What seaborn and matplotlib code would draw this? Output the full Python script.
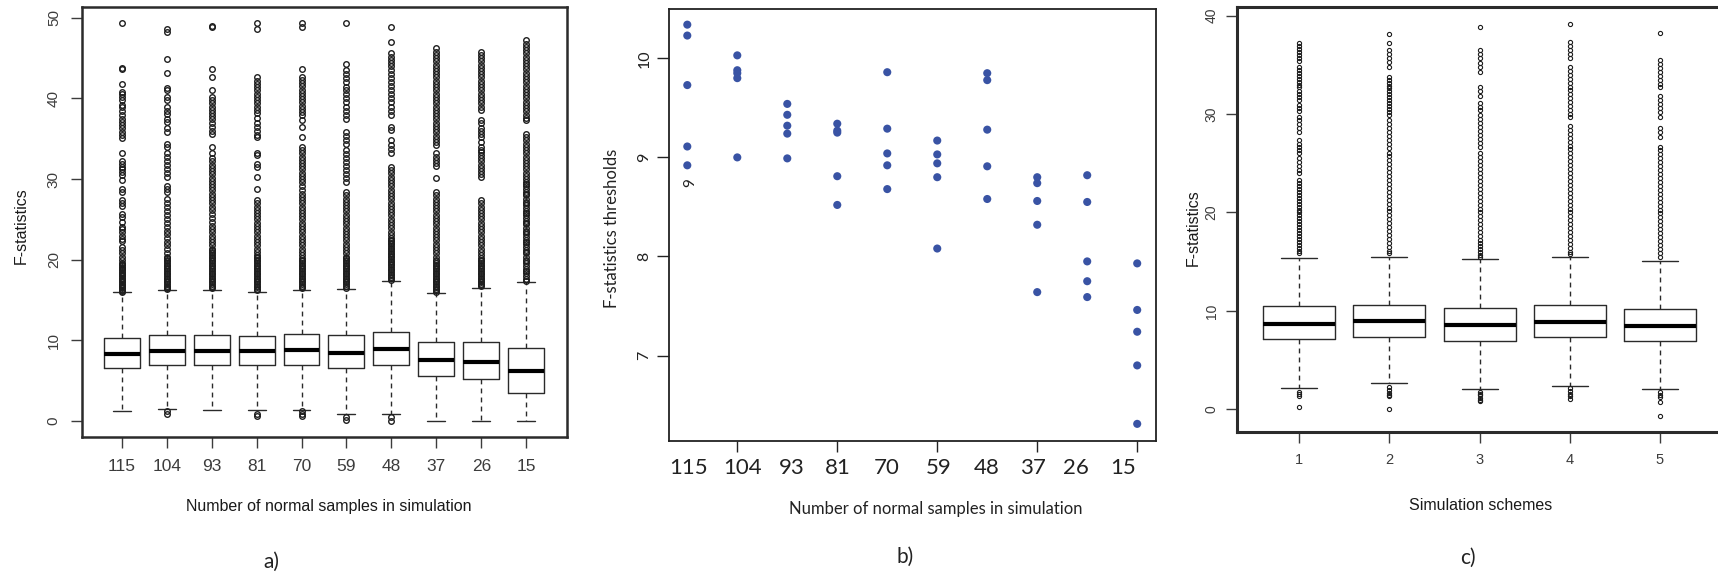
import matplotlib
matplotlib.use("Agg")
import matplotlib.pyplot as plt
import matplotlib.transforms as mtransforms
import numpy as np
import pandas as pd
import seaborn as sns

# ---------------- data ----------------
# Panel a: box statistics per simulation (number of normal samples)
a_labels = ["115", "104", "93", "81", "70", "59", "48", "37", "26", "15"]
a_q1 = [6.53, 6.90, 6.90, 6.90, 7.02, 6.65, 6.90, 5.66, 5.28, 3.51]
a_med = [8.30, 8.67, 8.67, 8.67, 8.80, 8.43, 8.92, 7.64, 7.39, 6.28]
a_q3 = [10.37, 10.66, 10.66, 10.53, 10.78, 10.66, 11.00, 9.79, 9.79, 9.01]
a_wlo = [1.24, 1.53, 1.36, 1.36, 1.40, 0.87, 0.87, 0.0, 0.0, 0.0]
a_whi = [15.95, 16.2, 16.3, 16.0, 16.3, 16.4, 17.35, 15.9, 16.5, 17.2]
a_out_115 = [49.4, 43.8, 43.7, 41.8, 40.8, 40.5, 40.2, 39.8, 39.2, 38.9, 38.5, 38.0, 37.5, 37.1,
             36.7, 36.3, 35.9, 35.5, 35.1, 33.2, 32.3, 31.9, 31.5, 31.2, 30.9, 30.5, 29.9, 28.8,
             28.4, 27.4, 27.0, 26.7, 25.7, 25.3, 24.7, 24.1, 23.8, 23.4, 23.0, 22.6, 22.3, 21.6,
             21.2, 20.8, 20.4, 20.0, 19.6, 19.3, 19.0, 18.7, 18.4, 18.1, 17.8, 17.5, 17.2, 16.9,
             16.6, 16.3, 16.05, 19.45, 19.15, 18.85, 18.55, 18.25, 17.95, 17.65, 17.35, 17.05,
             16.75, 16.45, 16.15]
a_out_104 = [48.6, 48.2, 44.9, 43.1, 41.3, 41.0, 40.2, 39.8, 38.9, 38.5, 38.1, 37.5, 37.1, 36.3,
             35.9, 34.4, 34.0, 33.2, 32.7, 32.2, 31.8, 31.3, 30.8, 30.3, 29.2, 28.8, 28.4, 27.6,
             27.1, 26.6, 26.1, 25.6, 25.1, 24.6, 24.1, 23.6, 23.2, 22.7, 22.2, 21.8, 21.3, 20.9,
             20.4, 20.0, 19.6, 19.2, 18.8, 18.4, 18.0, 17.6, 17.2, 16.8, 16.5, 20.2, 19.8, 19.4,
             19.0, 18.6, 18.2, 17.8, 17.4, 17.0, 16.65, 16.35, 1.2, 0.9]
a_out_93 = [49.0, 48.9, 43.7, 42.6, 41.0, 40.2, 39.8, 39.4, 39.0, 38.6, 38.2, 37.8, 37.4, 37.0,
            36.5, 36.0, 35.6, 34.0, 33.2, 32.6, 32.2, 31.8, 31.4, 31.0, 30.6, 30.2, 29.8, 29.4,
            29.0, 28.6, 28.2, 27.8, 27.4, 27.0, 26.6, 26.2, 25.7, 25.2, 24.7, 24.2, 23.8, 23.4,
            23.0, 22.6, 22.2, 21.8, 21.4, 21.0, 20.6, 20.2, 19.8, 19.4, 19.0, 18.6, 18.2, 17.8,
            17.4, 17.0, 16.6, 21.2, 20.8, 20.4, 20.0, 19.6, 19.2, 18.8, 18.4, 18.0, 17.6, 17.2,
            16.8, 16.45]
a_out_81 = [49.3, 48.6, 42.6, 42.2, 41.8, 41.4, 41.0, 40.6, 40.2, 39.8, 39.4, 39.0, 38.6, 38.2,
            37.6, 37.0, 36.5, 36.0, 35.5, 35.2, 33.3, 33.0, 31.9, 31.5, 30.3, 28.8, 27.4, 27.0,
            26.6, 26.2, 25.8, 25.4, 25.0, 24.6, 24.2, 23.8, 23.4, 23.0, 22.6, 22.2, 21.8, 21.4,
            21.0, 20.6, 20.2, 19.8, 19.4, 19.0, 18.6, 18.2, 17.8, 17.4, 17.0, 16.6, 16.2,
            20.4, 20.0, 19.6, 19.2, 18.8, 18.4, 18.0, 17.6, 17.2, 16.8, 16.4, 0.9, 0.7]
a_out_70 = [49.3, 48.9, 43.7, 42.7, 42.3, 41.9, 41.5, 41.1, 40.7, 40.3, 39.9, 39.5, 39.1, 38.7,
            38.3, 37.9, 37.3, 36.5, 35.2, 34.0, 33.6, 33.2, 32.8, 32.4, 32.0, 31.6, 31.2, 30.8,
            30.4, 30.0, 29.6, 29.2, 28.6, 28.2, 27.8, 27.4, 27.0, 26.6, 26.2, 25.8, 25.4, 25.0,
            24.6, 24.2, 23.8, 23.4, 23.0, 22.6, 22.2, 21.8, 21.4, 21.0, 20.6, 20.2, 19.8, 19.4,
            19.0, 18.6, 18.2, 17.8, 17.4, 17.0, 16.6, 20.0, 19.6, 19.2, 18.8, 18.4, 18.0, 17.6,
            17.2, 16.8, 16.45, 1.3, 0.9, 0.6]
a_out_59 = [49.4, 44.3, 43.5, 43.0, 42.5, 42.0, 41.4, 41.0, 40.5, 40.0, 39.5, 39.0, 38.5, 38.0,
            37.4, 35.9, 35.4, 34.9, 34.4, 33.6, 33.1, 32.6, 32.1, 31.6, 31.1, 30.6, 30.1, 29.6,
            28.4, 28.0, 27.6, 27.2, 26.8, 26.4, 26.0, 25.6, 25.2, 24.8, 24.4, 24.0, 23.6, 23.2,
            22.8, 22.4, 22.0, 21.6, 21.2, 20.8, 20.4, 20.0, 19.6, 19.2, 18.8, 18.4, 18.0, 17.6,
            17.2, 16.8, 20.2, 19.8, 19.4, 19.0, 18.6, 18.2, 17.8, 17.4, 17.0, 16.55, 0.55, 0.12]
a_out_48 = [48.8, 47.0, 45.6, 45.2, 44.8, 44.4, 44.0, 43.5, 43.0, 42.5, 42.0, 41.5, 41.0, 40.5,
            40.0, 39.5, 39.0, 38.5, 38.0, 36.5, 36.1, 34.8, 34.2, 33.7, 33.2, 31.5, 31.1, 30.7,
            30.3, 29.9, 29.5, 29.1, 28.7, 28.3, 27.9, 27.5, 27.1, 26.7, 26.3, 25.9, 25.5, 25.1,
            24.7, 24.3, 23.9, 23.5, 23.1, 22.7, 22.3, 21.9, 21.5, 21.1, 20.7, 20.3, 19.9, 19.5,
            19.1, 18.7, 18.3, 17.9, 17.5, 22.5, 22.1, 21.7, 21.3, 20.9, 20.5, 20.1, 19.7, 19.3,
            18.9, 18.5, 18.1, 17.7, 0.54, 0.04]
a_out_37 = [46.2, 45.8, 45.4, 45.0, 44.6, 44.2, 43.8, 43.4, 43.0, 42.6, 42.2, 41.8, 41.4, 41.0,
            40.6, 40.2, 39.8, 39.4, 39.0, 38.6, 38.2, 37.8, 37.4, 37.0, 36.6, 36.2, 35.8, 35.4,
            35.0, 34.6, 34.2, 33.2, 32.8, 32.4, 32.0, 31.6, 30.1, 28.4, 28.0, 27.6, 27.2, 26.8,
            26.4, 26.0, 25.6, 25.2, 24.8, 24.4, 24.0, 23.6, 23.2, 22.8, 22.4, 22.0, 21.6, 21.2,
            20.8, 20.4, 20.0, 19.6, 19.2, 18.8, 18.4, 18.0, 17.6, 17.2, 16.8, 16.4, 16.0,
            19.8, 19.4, 19.0, 18.6, 18.2, 17.8, 17.4, 17.0, 16.6, 16.2]
a_out_26 = [45.8, 45.4, 45.0, 44.6, 44.2, 43.8, 43.4, 43.0, 42.6, 42.2, 41.8, 41.4, 41.0, 40.6,
            40.2, 39.8, 39.4, 39.0, 38.6, 37.3, 36.9, 36.4, 36.0, 35.6, 35.2, 34.6, 34.0, 33.6,
            33.4, 33.0, 32.6, 32.2, 31.8, 31.4, 31.0, 30.6, 30.3, 27.4, 27.0, 26.6, 26.2, 25.8,
            25.4, 25.0, 24.6, 24.2, 23.8, 23.4, 23.0, 22.6, 22.2, 21.8, 21.4, 21.0, 20.6, 20.2,
            19.8, 19.4, 19.0, 18.6, 18.2, 17.8, 17.4, 17.0, 16.7, 20.0, 19.6, 19.2, 18.8, 18.4,
            18.0, 17.6, 17.2, 16.85]
a_out_15 = [47.2, 46.8, 46.4, 46.0, 45.6, 45.2, 44.8, 44.4, 44.0, 43.6, 43.2, 42.8, 42.4, 42.0,
            41.6, 41.2, 40.8, 40.4, 40.0, 39.6, 39.2, 38.8, 38.4, 38.0, 37.6, 37.3, 35.6, 35.2,
            34.8, 34.4, 34.0, 33.6, 33.2, 32.8, 32.4, 32.0, 31.6, 31.2, 30.8, 30.4, 30.0, 29.6,
            29.2, 28.8, 28.4, 28.0, 27.6, 27.2, 26.8, 26.4, 26.0, 25.6, 25.2, 24.8, 24.4, 24.0,
            23.6, 23.2, 22.8, 22.4, 22.0, 21.6, 21.2, 20.8, 20.4, 20.0, 19.6, 19.2, 18.8, 18.4,
            18.0, 17.6, 29.4, 28.2, 27.0, 25.8, 24.6, 23.4, 22.2, 21.0, 19.8, 18.6, 17.4]
a_outliers = [a_out_115, a_out_104, a_out_93, a_out_81, a_out_70,
              a_out_59, a_out_48, a_out_37, a_out_26, a_out_15]

# Panel b: F-statistics thresholds per simulation
b_labels = ["115", "104", "93", "81", "70", "59", "48", "37", "26", "15"]
b_115 = [10.34, 10.23, 9.73, 9.11, 8.92]
b_104 = [10.03, 9.88, 9.85, 9.80, 9.00]
b_93 = [9.54, 9.43, 9.32, 9.24, 8.99]
b_81 = [9.34, 9.27, 9.25, 8.81, 8.52]
b_70 = [9.86, 9.29, 9.04, 8.92, 8.68]
b_59 = [9.17, 9.03, 8.94, 8.80, 8.08]
b_48 = [9.85, 9.78, 9.28, 8.91, 8.58]
b_37 = [8.80, 8.74, 8.56, 8.32, 7.64]
b_26 = [8.82, 8.55, 7.95, 7.75, 7.59]
b_15 = [7.93, 7.46, 7.24, 6.90, 6.31]
b_values = [b_115, b_104, b_93, b_81, b_70, b_59, b_48, b_37, b_26, b_15]
b_note = "9"

# Panel c: box statistics per simulation scheme
c_labels = ["1", "2", "3", "4", "5"]
c_q1 = [7.11, 7.38, 6.98, 7.31, 6.91]
c_med = [8.70, 8.97, 8.57, 8.87, 8.47]
c_q3 = [10.47, 10.63, 10.26, 10.63, 10.16]
c_wlo = [2.20, 2.67, 2.03, 2.34, 2.03]
c_whi = [15.41, 15.50, 15.25, 15.50, 15.08]
c_out_1 = [37.2, 36.9, 36.6, 36.3, 36.0, 35.7, 35.4, 34.8, 34.5, 34.2, 33.9, 33.6, 33.3, 33.0,
           32.7, 32.3, 32.0, 31.7, 31.4, 30.9, 30.6, 30.3, 29.7, 29.4, 29.0, 28.6, 28.2, 27.4,
           27.0, 26.7, 26.3, 26.0, 25.5, 25.1, 24.7, 24.3, 24.0, 23.3, 23.0, 22.7, 22.4, 22.1,
           21.8, 21.5, 21.2, 20.9, 20.6, 20.3, 20.0, 19.7, 19.4, 19.1, 18.8, 18.5, 18.2, 17.9,
           17.6, 17.3, 17.0, 16.7, 16.4, 16.1, 15.9, 1.8, 1.6, 1.3, 0.27]
c_out_2 = [38.1, 37.2, 36.5, 36.1, 35.7, 35.3, 34.8, 33.8, 33.5, 33.2, 32.9, 32.6, 32.3, 32.0,
           31.7, 31.4, 31.1, 30.8, 30.5, 30.2, 29.9, 29.4, 29.0, 28.6, 28.2, 27.8, 27.4, 27.0,
           26.6, 26.0, 25.7, 25.3, 24.9, 24.5, 24.1, 23.7, 23.3, 22.9, 22.5, 22.1, 21.7, 21.3,
           20.9, 20.5, 20.1, 19.7, 19.3, 18.9, 18.5, 18.1, 17.7, 17.3, 16.9, 16.5, 16.1, 15.9,
           2.3, 2.0, 1.7, 1.5, 1.3, 0.0]
c_out_3 = [38.8, 36.5, 36.1, 35.7, 35.2, 34.8, 34.3, 32.8, 32.3, 31.8, 31.1, 30.7, 30.4, 29.9,
           29.5, 29.1, 28.7, 28.3, 27.9, 27.5, 27.1, 26.7, 26.0, 25.6, 25.2, 24.8, 24.4, 24.0,
           23.6, 23.2, 22.8, 22.4, 22.0, 21.6, 21.2, 20.8, 20.4, 20.0, 19.6, 19.2, 18.8, 18.4,
           18.0, 17.6, 17.2, 16.9, 16.6, 16.3, 16.0, 15.7, 15.5, 1.8, 1.6, 1.4, 1.1, 0.9, 0.8]
c_out_4 = [39.2, 37.3, 36.9, 36.5, 36.1, 35.7, 34.8, 34.4, 34.0, 33.6, 33.2, 32.8, 32.4, 32.0,
           31.6, 31.2, 30.8, 30.4, 30.0, 29.7, 28.8, 28.4, 28.0, 27.6, 27.2, 26.8, 26.4, 26.0,
           25.6, 25.2, 24.8, 24.4, 24.0, 23.6, 23.2, 22.8, 22.4, 22.0, 21.6, 21.2, 20.8, 20.4,
           20.0, 19.6, 19.2, 18.8, 18.4, 18.0, 17.6, 17.2, 16.8, 16.4, 16.0, 15.8,
           2.2, 1.9, 1.6, 1.3, 1.0]
c_out_5 = [38.2, 35.5, 35.1, 34.7, 34.3, 33.9, 33.5, 33.1, 32.8, 31.8, 31.4, 31.0, 30.6, 30.2,
           29.7, 28.6, 28.2, 27.7, 26.7, 26.3, 25.9, 25.5, 25.1, 24.7, 24.3, 23.9, 23.5, 23.1,
           22.7, 22.3, 21.9, 21.5, 21.1, 20.7, 20.3, 19.9, 19.5, 19.1, 18.7, 18.3, 17.9, 17.5,
           17.1, 16.7, 16.3, 15.9, 15.5, 1.8, 1.5, 1.2, 0.7, -0.67]
c_outliers = [c_out_1, c_out_2, c_out_3, c_out_4, c_out_5]

# ---------------- style ----------------
sns.set_theme(style="white")
plt.rcParams["font.family"] = ["Liberation Sans", "DejaVu Sans"]
plt.rcParams["axes.unicode_minus"] = False

W, H = 1718, 577
fig = plt.figure(figsize=(W / 100, H / 100), dpi=100)


def px_axes(left, top, right, bottom):
    return fig.add_axes([left / W, 1 - bottom / H, (right - left) / W, (bottom - top) / H])


def ftext(x, y, s, **kw):
    return fig.text(x / W, 1 - y / H, s, ha="center", va="center", **kw)


def box_stats(labels, q1, med, q3, wlo, whi, outs):
    stats = []
    for lab, a, m, b, lo, hi, fl in zip(labels, q1, med, q3, wlo, whi, outs):
        stats.append(dict(label=lab, q1=a, med=m, q3=b, whislo=lo, whishi=hi,
                          fliers=np.array(fl)))
    return stats


def draw_box(ax, stats, msize, mew, frame_lw):
    n = len(stats)
    ax.bxp(stats, positions=np.arange(1, n + 1), widths=0.8, showfliers=True,
           boxprops=dict(color="#2a2a2a", linewidth=1.0),
           medianprops=dict(color="black", linewidth=3.0, solid_capstyle="butt"),
           whiskerprops=dict(color="#2a2a2a", linewidth=1.0, linestyle=(0, (3.5, 3))),
           capprops=dict(color="#2a2a2a", linewidth=1.0),
           capwidths=0.4,
           flierprops=dict(marker="o", markerfacecolor="none", markeredgecolor="#1e1e1e",
                           markersize=msize, markeredgewidth=mew, linestyle="none"))
    for s in ax.spines.values():
        s.set_visible(True)
        s.set_color("#2b2b2b")
        s.set_linewidth(frame_lw)


grey = "#3c3c3c"
myriad = ["Lato", "DejaVu Sans"]

# ---------------- panel a ----------------
axa = px_axes(81.7, 7.3, 566.7, 437.3)
draw_box(axa, box_stats(a_labels, a_q1, a_med, a_q3, a_wlo, a_whi, a_outliers), 4.0, 1.0, 1.8)
axa.set_xlim(0.11, 10.9)
axa.set_ylim(-2.0, 51.3)
axa.set_yticks([0, 10, 20, 30, 40, 50])
axa.set_yticklabels(["0", "10", "20", "30", "40", "50"], rotation=90, va="center")
axa.set_xticks(np.arange(1, 11))
axa.set_xticklabels(a_labels)
axa.tick_params(axis="x", length=8, width=1, color=grey, labelsize=12.5, labelcolor=grey, pad=7.5,
                bottom=True)
axa.tick_params(axis="y", length=8, width=1, color=grey, labelsize=11, labelcolor=grey, pad=7,
                left=True)
ftext(328.3, 506.7, "Number of normal samples in simulation", fontsize=11.5, color="#1a1a1a")
ftext(21, 226, "F-statistics", fontsize=11.5, color="#1a1a1a", rotation=90)
ftext(271.7, 561.7, "a)", fontsize=15, family=myriad, color="#222222")

# ---------------- panel b ----------------
axb = px_axes(669.3, 9.3, 1155.7, 440.7)
rows = []
for i, (lab, vals) in enumerate(zip(b_labels, b_values)):
    for v in vals:
        rows.append({"pos": i + 1, "threshold": v})
dfb = pd.DataFrame(rows)
sns.scatterplot(data=dfb, x="pos", y="threshold", ax=axb, color="#3953a4", s=34,
                edgecolor="none", legend=False)
axb.set_xlim(0.64, 10.37)
axb.set_ylim(6.14, 10.495)
axb.set_yticks([7, 8, 9, 10])
axb.set_yticklabels(["7", "8", "9", "10"], rotation=90, va="center", family=myriad)
axb.set_xticks([2, 4, 6, 8, 10])
axb.set_xticklabels([])
axb.tick_params(axis="x", length=8, width=1, color="#222222", bottom=True)
axb.tick_params(axis="y", length=9, width=1, color="#222222", labelsize=11.5,
                labelcolor="#222222", pad=4, left=True)
for s in axb.spines.values():
    s.set_visible(True)
    s.set_color("#222222")
    s.set_linewidth(1.3)
trans_b = mtransforms.blended_transform_factory(axb.transData, fig.transFigure)
b_label_x = [1.03, 2.11, 3.09, 4.02, 4.99, 6.02, 6.98, 7.92, 8.78, 9.72]
for lx, lab in zip(b_label_x, b_labels):
    axb.text(lx, 1 - 468.3 / H, lab, transform=trans_b, ha="center", va="center",
             fontsize=16, family=myriad, color="#222222")
axb.text(1.06, 8.75, b_note, ha="center", va="center", rotation=90, fontsize=11,
         family=myriad, color="#222222")
axb.set_xlabel("")
axb.set_ylabel("")
ftext(936, 509.3, "Number of normal samples in simulation", fontsize=12, family=myriad,
      color="#222222")
ftext(611.7, 228, "F-statistics thresholds", rotation=90, fontsize=12, family=myriad,
      color="#222222")
ftext(905, 556.7, "b)", fontsize=15, family=myriad, color="#222222")

# ---------------- panel c ----------------
axc = px_axes(1236.7, 7.3, 1723.0, 431.7)
draw_box(axc, box_stats(c_labels, c_q1, c_med, c_q3, c_wlo, c_whi, c_outliers), 3.0, 0.8, 2.2)
axc.set_xlim(0.306, 5.7)
axc.set_ylim(-2.28, 40.85)
axc.set_yticks([0, 10, 20, 30, 40])
axc.set_yticklabels(["0", "10", "20", "30", "40"], rotation=90, va="center")
axc.set_xticks(np.arange(1, 6))
axc.set_xticklabels(c_labels)
axc.tick_params(axis="x", length=8, width=1, color=grey, labelsize=10.5, labelcolor=grey, pad=7.5,
                bottom=True)
axc.tick_params(axis="y", length=8, width=1, color=grey, labelsize=10, labelcolor=grey, pad=5,
                left=True)
ftext(1481, 505, "Simulation schemes", fontsize=11.5, color="#1a1a1a")
ftext(1193.7, 228, "F-statistics", fontsize=11.5, color="#1a1a1a", rotation=90)
ftext(1468.3, 558.3, "c)", fontsize=15, family=myriad, color="#222222")

fig.savefig("out.png", dpi=100)
